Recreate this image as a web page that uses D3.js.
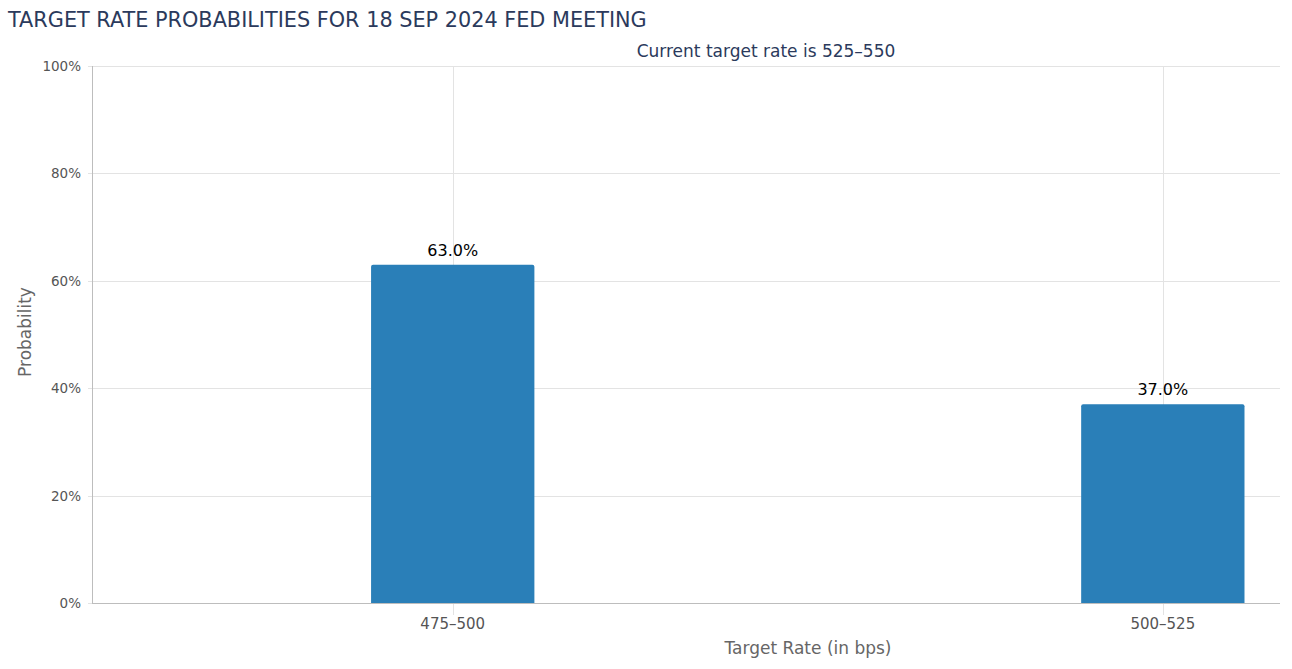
<!DOCTYPE html>
<html>
<head>
<meta charset="utf-8">
<script src="https://cdn.jsdelivr.net/npm/d3@7"></script>
<style>
  body { margin: 0; background: #fff; }
  text { font-family: "DejaVu Sans", sans-serif; }
</style>
</head>
<body>
<svg id="chart"></svg>
<script>
var width = 1292;
var height = 669;

// chart data
const rates = ['475-500', '500-525'];
const probs = [63.0, 37.0];
const yTicks = [0, 20, 40, 60, 80, 100];

const titleText = 'TARGET RATE PROBABILITIES FOR 18 SEP 2024 FED MEETING';
const subtitleText = 'Current target rate is 525-550';

const margin = { top: 66, right: 12, bottom: 66, left: 92 };

let svg = d3.select('#chart').attr('width', width).attr('height', height);

// x positions are not centred bands in the original, so use a linear scale on the category index
let x = d3.scaleLinear()
    .domain([-0.508, 1.165])
    .range([margin.left, width - margin.right]);
let barW = x(0.23) - x(0);

let y = d3.scaleLinear()
    .domain([0, 100])
    .range([height - margin.bottom, margin.top]);

// horizontal grid
svg.append('g')
    .selectAll('line')
    .data(yTicks)
    .enter()
    .append('line')
    .attr('x1', margin.left - 4)
    .attr('x2', width - margin.right)
    .attr('y1', d => Math.round(y(d)) + 0.5)
    .attr('y2', d => Math.round(y(d)) + 0.5)
    .attr('stroke', '#e3e3e3')
    .attr('stroke-width', 1);

// vertical grid through categories
svg.append('g')
    .selectAll('line')
    .data(rates)
    .enter()
    .append('line')
    .attr('x1', (d, i) => Math.round(x(i)) + 0.5)
    .attr('x2', (d, i) => Math.round(x(i)) + 0.5)
    .attr('y1', margin.top)
    .attr('y2', height - margin.bottom + 12)
    .attr('stroke', '#e3e3e3');

// y axis labels
svg.append('g')
    .selectAll('text')
    .data(yTicks)
    .enter()
    .append('text')
    .attr('x', margin.left - 11)
    .attr('y', d => y(d) + 5)
    .attr('text-anchor', 'end')
    .attr('font-size', 13.5)
    .attr('fill', '#555')
    .text(d => d + '%');

// bars
svg.append('g')
    .selectAll('path')
    .data(probs)
    .enter()
    .append('path')
    .attr('d', (d, i) => {
        let x0 = x(i) - barW / 2, x1 = x(i) + barW / 2;
        let y0 = y(d), y1 = y(0), r = 2;
        return `M${x0},${y1}V${y0 + r}Q${x0},${y0} ${x0 + r},${y0}H${x1 - r}Q${x1},${y0} ${x1},${y0 + r}V${y1}Z`;
    })
    .attr('fill', '#2a7fb8');

// value labels
svg.append('g')
    .selectAll('text')
    .data(probs)
    .enter()
    .append('text')
    .attr('x', (d, i) => x(i))
    .attr('y', d => y(d) - 9)
    .attr('text-anchor', 'middle')
    .attr('font-size', 16)
    .attr('fill', '#000')
    .text(d => d.toFixed(1) + '%');

// axis lines
svg.append('line')
    .attr('x1', margin.left + 0.5).attr('x2', margin.left + 0.5)
    .attr('y1', margin.top).attr('y2', height - margin.bottom)
    .attr('stroke', '#bdbdbd');
svg.append('line')
    .attr('x1', margin.left).attr('x2', width - margin.right)
    .attr('y1', Math.round(y(0)) + 0.5).attr('y2', Math.round(y(0)) + 0.5)
    .attr('stroke', '#bdbdbd');

// category labels
svg.append('g')
    .selectAll('text')
    .data(rates)
    .enter()
    .append('text')
    .attr('x', (d, i) => x(i))
    .attr('y', height - margin.bottom + 26)
    .attr('text-anchor', 'middle')
    .attr('font-size', 15)
    .attr('fill', '#555')
    .text(d => d.replace('-', '\u2013'));

// axis titles
svg.append('text')
    .attr('x', 808)
    .attr('y', 654)
    .attr('text-anchor', 'middle')
    .attr('font-size', 17)
    .attr('fill', '#666')
    .text('Target Rate (in bps)');

svg.append('text')
    .attr('transform', 'translate(31,' + 332 + ') rotate(-90)')
    .attr('text-anchor', 'middle')
    .attr('font-size', 17)
    .attr('fill', '#666')
    .text('Probability');

// titles
svg.append('text')
    .attr('x', 8)
    .attr('y', 27)
    .attr('font-size', 20.8)
    .attr('fill', '#2b3a5c')
    .text(titleText);

svg.append('text')
    .attr('x', 766)
    .attr('y', 57)
    .attr('text-anchor', 'middle')
    .attr('font-size', 17)
    .attr('fill', '#2b3a5c')
    .text(subtitleText.replace('-', '\u2013'));
</script>
</body>
</html>
